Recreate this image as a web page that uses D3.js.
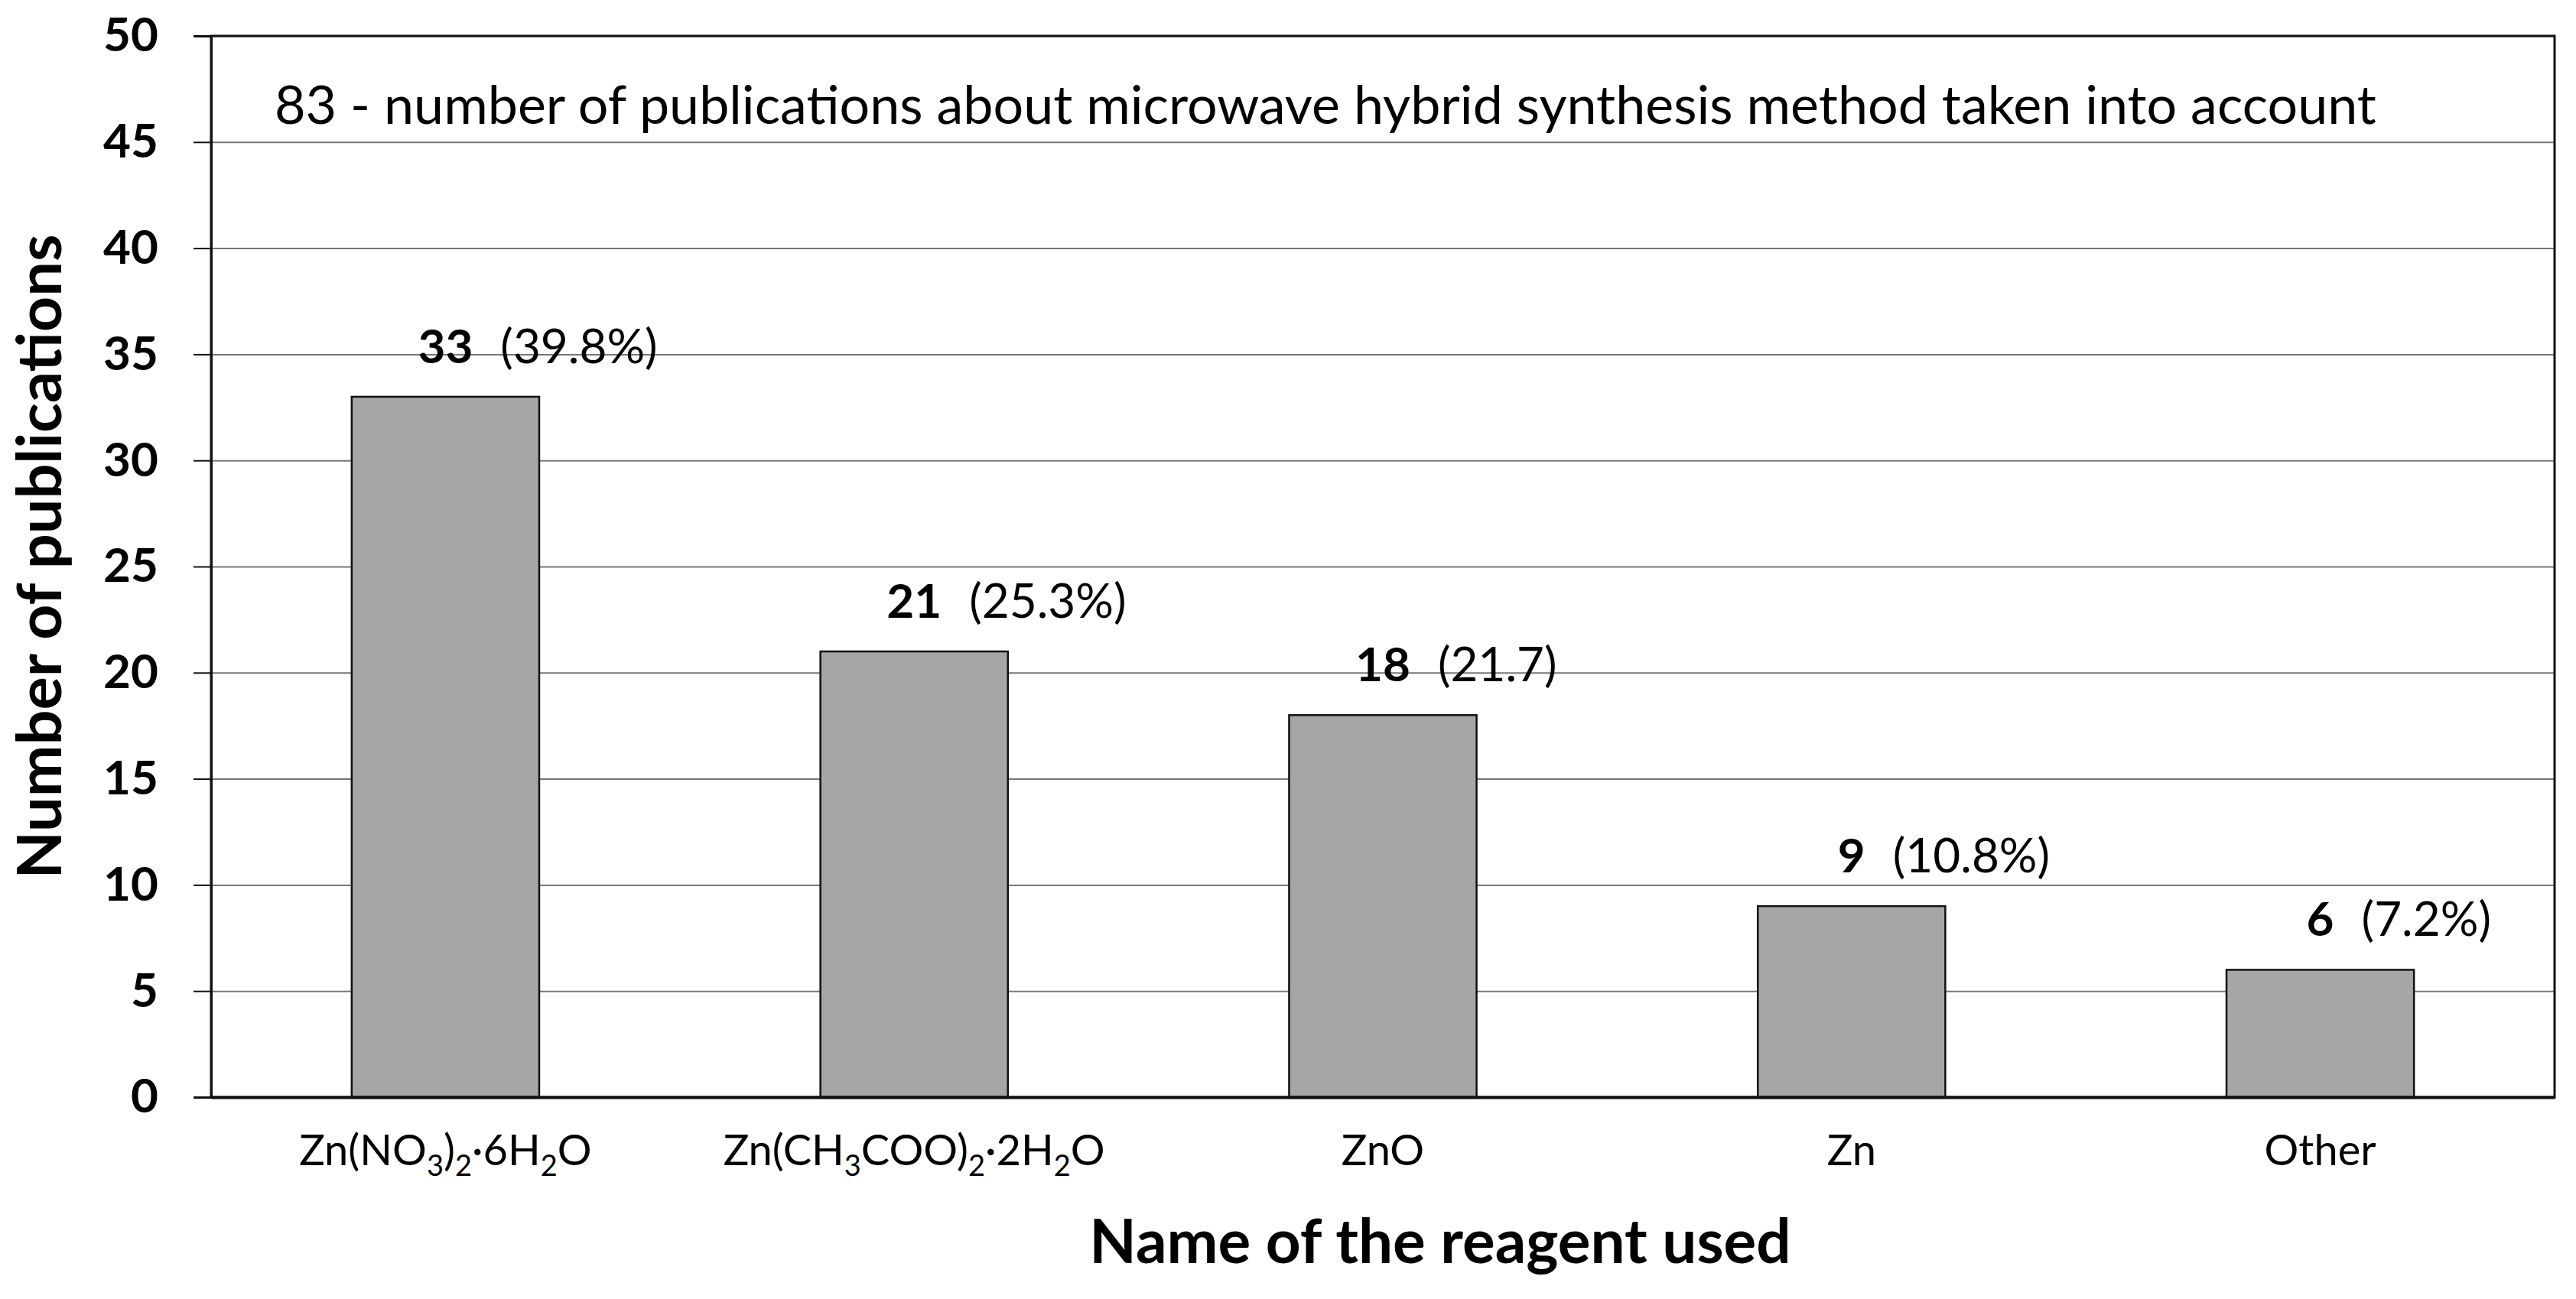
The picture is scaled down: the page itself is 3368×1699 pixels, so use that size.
<!DOCTYPE html>
<html lang="en">
<head>
<meta charset="utf-8" />
<title>Reagents used in microwave hybrid synthesis</title>
<script src="https://cdn.jsdelivr.net/npm/d3@7"></script>
<style>
  html, body { margin: 0; padding: 0; background: #fff; }
  svg { display: block; font-family: Lato, 'Open Sans', sans-serif; }
</style>
</head>
<body>
<div id="chart"></div>
<script>
// reagent formulas: "_n" marks a subscript digit
const reagents = ['Zn(NO_3)_2·6H_2O', 'Zn(CH_3COO)_2·2H_2O', 'ZnO', 'Zn', 'Other'];
const publicationCounts = [33, 21, 18, 9, 6];
const shareLabels = ['(39.8%)', '(25.3%)', '(21.7)', '(10.8%)', '(7.2%)'];
const yTickValues = [0, 5, 10, 15, 20, 25, 30, 35, 40, 45, 50];
const totalPublications = 83;

const noteText = `${totalPublications} - number of publications about microwave hybrid synthesis method taken into account`;
const yTitle = 'Number of publications';
const xTitle = 'Name of the reagent used';

const width = 3368;
const height = 1699;
const margin = { top: 47, right: 28, bottom: 264, left: 276 };
const innerWidth = width - margin.left - margin.right;
const innerHeight = height - margin.top - margin.bottom;

const svg = d3
  .select('#chart')
  .append('svg')
  .attr('width', width)
  .attr('height', height)
  .attr('viewBox', [0, 0, width, height]);

const x = d3.scaleBand().domain(reagents).range([0, innerWidth]).paddingInner(0.6).paddingOuter(0.3);
const y = d3.scaleLinear().domain([0, 50]).range([innerHeight, 0]);

const g = svg.append('g').attr('transform', `translate(${margin.left}, ${margin.top})`);

// gridlines
g.append('g')
  .attr('class', 'grid')
  .call(d3.axisLeft(y).tickValues(yTickValues).tickSize(-innerWidth).tickFormat(''))
  .call((sel) => sel.select('.domain').remove())
  .call((sel) => sel.selectAll('text').remove())
  .call((sel) => sel.selectAll('line').attr('stroke', '#777').attr('stroke-width', 2));

// bars
g.append('g')
  .selectAll('rect')
  .data(reagents)
  .join('rect')
  .attr('x', (d) => x(d))
  .attr('y', (d, i) => y(publicationCounts[i]))
  .attr('width', x.bandwidth())
  .attr('height', (d, i) => y(0) - y(publicationCounts[i]))
  .attr('fill', '#a6a6a6')
  .attr('stroke', '#111')
  .attr('stroke-width', 2.5);

// plot frame
g.append('rect')
  .attr('width', innerWidth)
  .attr('height', innerHeight)
  .attr('fill', 'none')
  .attr('stroke', '#111')
  .attr('stroke-width', 3);

// y axis
g.append('g')
  .call(d3.axisLeft(y).tickValues(yTickValues).tickSize(23).tickPadding(46))
  .attr('font-family', null)
  .attr('font-size', 62)
  .attr('font-weight', 700)
  .call((sel) => sel.select('.domain').attr('stroke', '#111').attr('stroke-width', 3))
  .call((sel) => sel.selectAll('line').attr('stroke', '#111').attr('stroke-width', 2))
  .call((sel) => sel.selectAll('text').attr('fill', '#000'));

// x axis with chemical subscripts
g.append('g')
  .attr('transform', `translate(0, ${innerHeight})`)
  .call(d3.axisBottom(x).tickSize(0))
  .attr('font-family', null)
  .attr('font-size', 56)
  .call((sel) => sel.select('.domain').attr('stroke', '#111').attr('stroke-width', 4))
  .call((sel) =>
    sel
      .selectAll('text')
      .attr('fill', '#000')
      .attr('y', 89)
      .attr('dy', null)
      .text(null)
      .each(function (d) {
        const text = d3.select(this);
        let shift = 0;
        d.split(/(_\d)/).filter(Boolean).forEach((part) => {
          if (part.startsWith('_')) {
            text.append('tspan').attr('font-size', 38).attr('dy', 14 - shift).text(part.slice(1));
            shift = 14;
          } else {
            text.append('tspan').attr('dy', -shift).text(part);
            shift = 0;
          }
        });
      })
  );

// value labels
const labels = g
  .append('g')
  .selectAll('g')
  .data(reagents)
  .join('g')
  .attr('transform', (d, i) => `translate(${x(d) + x.bandwidth() / 2}, ${y(publicationCounts[i]) - 44})`);

labels
  .append('text')
  .attr('class', 'count')
  .attr('text-anchor', 'middle')
  .attr('font-size', 62)
  .attr('font-weight', 700)
  .text((d, i) => publicationCounts[i]);

labels.each(function (d, i) {
  const group = d3.select(this);
  const countWidth = group.select('.count').node().getComputedTextLength();
  group
    .append('text')
    .attr('x', countWidth / 2 + 36)
    .attr('font-size', 62)
    .text(shareLabels[i]);
});

// note inside plot
svg
  .append('text')
  .attr('x', 359)
  .attr('y', 162)
  .attr('font-size', 70)
  .text(noteText);

// axis titles
svg
  .append('text')
  .attr('transform', 'translate(80, 728) rotate(-90)')
  .attr('text-anchor', 'middle')
  .attr('font-size', 81)
  .attr('font-weight', 700)
  .text(yTitle);

svg
  .append('text')
  .attr('x', 1883)
  .attr('y', 1652)
  .attr('text-anchor', 'middle')
  .attr('font-size', 80)
  .attr('font-weight', 700)
  .text(xTitle);
</script>
</body>
</html>
